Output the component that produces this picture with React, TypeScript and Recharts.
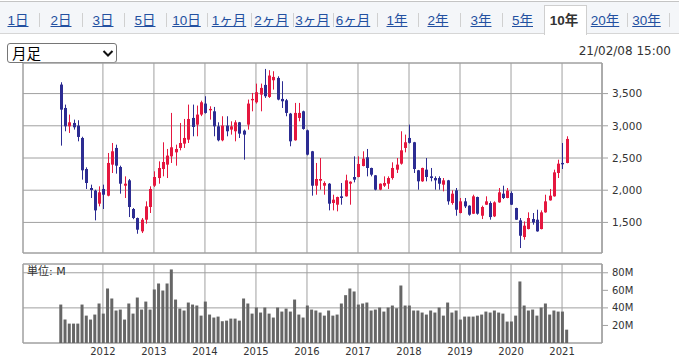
import React from 'react';
import { ComposedChart, BarChart, Bar, XAxis, YAxis, CartesianGrid, ReferenceArea } from 'recharts';

// ---- categories (monthly, Mar 2011 .. Feb 2021) ----
const START_YEAR = 2011;
const START_MONTH = 3;
const MONTH_COUNT = 120;
const months: string[] = Array.from({ length: MONTH_COUNT }, (_, k) => {
  const m = START_MONTH - 1 + k;
  return `${START_YEAR + Math.floor(m / 12)}/${String((m % 12) + 1).padStart(2, '0')}`;
});

// ---- series values ----
const opens = [
  3640, 3277, 2992, 3044, 3003, 2811, 2329, 2034, 1993, 1791,
  2019, 1915, 2397, 2656, 2360, 2070, 2153, 1708, 1568, 1361,
  1542, 1739, 2070, 2189, 2329, 2397, 2526, 2588, 2656, 2723,
  2785, 3122, 3018, 3174, 3345, 3241, 3225, 2992, 2775, 3003,
  2941, 2915, 3054, 2925, 3018, 3396, 3365, 3484, 3635, 3448,
  3707, 3743, 3417, 3396, 3189, 2775, 3122, 3225, 2930, 2604,
  2070, 2148, 2070, 2101, 1801, 1775, 1905, 1905, 2101, 2205,
  2205, 2376, 2511, 2345, 2231, 2008, 2070, 2101, 2189, 2319,
  2412, 2656, 2811, 2744, 2309, 2138, 2319, 2215, 2189, 2189,
  2086, 2153, 1801, 1998, 1646, 1827, 1760, 1635, 1894, 1604,
  1775, 1801, 1594, 1811, 1946, 1879, 1956, 1723, 1532, 1273,
  1397, 1553, 1542, 1397, 1656, 1842, 1905, 2267, 2423, 2423,
];
const highs = [
  3676, 3329, 3174, 3096, 3086, 2830, 2355, 2086, 2008, 2060,
  2086, 2578, 2733, 2707, 2381, 2215, 2174, 1723, 1575, 1568,
  1827, 2060, 2293, 2448, 2744, 2640, 3200, 2707, 3044, 3106,
  3329, 3329, 3314, 3390, 3459, 3303, 3293, 3054, 3148, 3148,
  3070, 3086, 3060, 2941, 3407, 3510, 3655, 3655, 3883, 3863,
  3847, 3769, 3692, 3417, 3200, 3355, 3355, 3235, 2941, 2610,
  2423, 2500, 2138, 2110, 1930, 1900, 2112, 2241, 2138, 2526,
  2526, 2604, 2640, 2350, 2235, 2105, 2215, 2215, 2433, 2500,
  2915, 2863, 3018, 2750, 2315, 2350, 2500, 2345, 2215, 2215,
  2189, 2160, 1998, 2034, 1879, 1879, 1765, 1930, 1900, 1760,
  1905, 1827, 1827, 2034, 2070, 2034, 1982, 1728, 1568, 1516,
  1656, 1646, 1697, 1687, 1930, 2019, 2319, 2474, 2733, 2837,
];
const lows = [
  2692, 2915, 2889, 2941, 2759, 2164, 2019, 1879, 1532, 1749,
  1708, 1905, 2267, 2257, 1946, 1879, 1583, 1550, 1324, 1335,
  1480, 1646, 2050, 2101, 2215, 2189, 2423, 2381, 2619, 2656,
  2733, 2837, 2837, 3150, 3189, 3096, 2837, 2759, 2760, 2837,
  2863, 2759, 2811, 2474, 2941, 3225, 3345, 3225, 3433, 3433,
  3562, 3396, 3277, 3148, 2682, 2770, 3070, 2940, 2540, 1915,
  1930, 2008, 1930, 1687, 1687, 1672, 1775, 1900, 1775, 2122,
  2200, 2370, 2215, 2215, 1998, 2000, 2050, 2019, 2164, 2267,
  2397, 2588, 2725, 2267, 2008, 2130, 2138, 2138, 2008, 2008,
  1982, 1775, 1775, 1604, 1640, 1723, 1604, 1630, 1620, 1552,
  1770, 1542, 1583, 1805, 1863, 1875, 1770, 1538, 1102, 1231,
  1392, 1464, 1356, 1392, 1650, 1838, 1900, 2189, 2329, 2418,
];
const closes = [
  3251, 2992, 3054, 2977, 2827, 2309, 2112, 2003, 1687, 1967,
  1930, 2423, 2604, 2381, 2101, 2101, 1739, 1568, 1387, 1542,
  1749, 2019, 2205, 2345, 2438, 2537, 2666, 2640, 2733, 2811,
  3106, 2982, 3174, 3365, 3200, 3262, 2992, 2775, 3003, 2915,
  2992, 3054, 2878, 2863, 3345, 3417, 3521, 3588, 3459, 3780,
  3759, 3407, 3381, 3200, 2759, 3200, 3200, 2951, 2552, 2070,
  2174, 2174, 2112, 1791, 1853, 1894, 1879, 2153, 2132, 2164,
  2407, 2490, 2345, 2241, 2008, 2101, 2112, 2189, 2345, 2397,
  2619, 2744, 2735, 2329, 2138, 2345, 2205, 2189, 2153, 2101,
  2153, 1827, 1946, 1697, 1827, 1749, 1620, 1905, 1635, 1739,
  1827, 1583, 1811, 1967, 1879, 1993, 1775, 1542, 1293, 1449,
  1568, 1500, 1361, 1656, 1827, 1915, 2277, 2412, 2402, 2796,
];
// volume in millions
const volumes = [
  43.8, 26.7, 22.1, 22.1, 22.1, 43.8, 31.2, 26.7, 32.4, 45,
  33.5, 62.1, 50.7, 37, 38.1, 26.7, 45, 33.5, 51.8, 38.1,
  47.2, 38.1, 61, 67.8, 59.8, 67.8, 83.8, 49.5, 39.2, 37,
  46.1, 43.8, 42.7, 31.2, 47.2, 32.4, 29, 30.1, 24.8, 25.5,
  27.8, 27.8, 25.5, 50.7, 45, 33.5, 40.4, 34.7, 40.4, 33.5,
  29, 40.4, 35.8, 39.2, 35.8, 49.5, 32.4, 29, 42.7, 38.1,
  37, 34.7, 31.2, 37, 31.2, 32.4, 45, 54.5, 62.1, 58.7,
  43.8, 45, 46.1, 37, 38.1, 40.4, 35.8, 40.4, 42.7, 39.6,
  65.5, 42.7, 42.7, 37, 37, 34.7, 32.4, 37, 34.7, 40.4,
  31.2, 46.1, 34.7, 37, 26.7, 30.1, 30.1, 30.1, 31.2, 32.4,
  35.8, 34.7, 37, 34.7, 33.5, 24.4, 24.4, 31.2, 70.1, 42.7,
  37, 38.1, 31.2, 40.4, 45, 32.4, 37, 35.8, 35.8, 15.2,
];

// ---- tick labels / UI text ----
const priceTicks = [1500, 2000, 2500, 3000, 3500];
const volumeTicks = [20, 40, 60, 80];
const tabs = ['1日', '2日', '3日', '5日', '10日', '1ヶ月', '2ヶ月', '3ヶ月', '6ヶ月', '1年', '2年', '3年', '5年', '10年', '20年', '30年'];
const activeTab = '10年';
const periodLabel = '月足';
const dateLabel = '21/02/08 15:00';
const unitLabel = '単位: M';

const data = months.map((m, i) => ({ i, m, o: opens[i], h: highs[i], l: lows[i], c: closes[i], v: volumes[i] }));
const yearTicks = data.filter((d) => d.m.endsWith('/01')).map((d) => d.i);

const X_DOMAIN: [number, number] = [-8.8, 127.4];
const P_DOMAIN: [number, number] = [1025, 3975];
const V_DOMAIN: [number, number] = [0, 90];

const RED = '#e5173f';
const BLUE = '#2c2c92';
const GRID = '#a0a0a0';
const TEXT = '#333333';
const AXIS_FONT = '"DejaVu Sans", "Noto Sans CJK JP", sans-serif';
const TAB_FONT = '"Liberation Sans", "Noto Sans CJK JP", sans-serif';

// tab layout (UI chrome)
const tabCenters = [18, 61, 103, 145, 186.5, 229, 271.5, 312.5, 353, 397, 438, 481, 522.5, 564, 605, 646.5];
const sepXs = [39, 82, 124, 166, 207, 251, 293, 333, 377, 418, 460, 502, 627, 669];

const Candle = (props: any) => {
  const { x, y, width, height, payload } = props;
  if (x == null || y == null || payload == null) return null;
  const top = Math.min(y, y + height);
  const h = Math.abs(height);
  const range = payload.h - payload.l || 1;
  const k = h / range;
  const bTopV = Math.max(payload.o, payload.c);
  const bBotV = Math.min(payload.o, payload.c);
  const by1 = top + (payload.h - bTopV) * k;
  const by2 = top + (payload.h - bBotV) * k;
  const color = payload.c >= payload.o ? RED : BLUE;
  const cx = Math.round(x + width / 2) + 0.5;
  return (
    <g>
      <line x1={cx} x2={cx} y1={top} y2={top + h} stroke={color} strokeWidth={1} />
      <rect x={cx - 1.5} y={by1} width={3} height={Math.max(1, by2 - by1)} fill={color} />
    </g>
  );
};

const fmtPrice = (v: number) => v.toLocaleString('en-US');
const fmtVol = (v: number) => `${v}M`;
const fmtYear = (i: number) => (months[i] ? months[i].slice(0, 4) : '');

export default function App() {
  return (
    <div
      style={{
        position: 'absolute',
        left: 0,
        top: 0,
        width: 679,
        height: 357,
        background: '#ffffff',
        overflow: 'hidden',
      }}
    >
      {/* tab bar */}
      <div
        style={{
          position: 'absolute',
          left: 0,
          top: 1,
          width: 679,
          height: 31,
          background: '#f4f6f9',
          borderTop: '1px solid #c4c4c4',
          borderBottom: '1px solid #d6d6d6',
        }}
      />
      <div
        style={{
          position: 'absolute',
          left: 544,
          top: 5,
          width: 41,
          height: 29,
          background: '#ffffff',
          borderTop: '1px solid #cfcfcf',
          borderLeft: '1px solid #cfcfcf',
          borderRight: '1px solid #cfcfcf',
        }}
      />
      {sepXs.map((sx) => (
        <div key={sx} style={{ position: 'absolute', left: sx, top: 13, width: 1, height: 14, background: '#d0d0d0' }} />
      ))}
      {tabs.map((t, k) => {
        const active = t === activeTab;
        return (
          <div
            key={t}
            style={{
              position: 'absolute',
              left: tabCenters[k] - 30,
              top: 12,
              width: 60,
              height: 17,
              lineHeight: '17px',
              textAlign: 'center',
              fontFamily: TAB_FONT,
              fontSize: 13.5,
              fontWeight: active ? 700 : 400,
              color: active ? '#333333' : '#2350a0',
              textDecoration: active ? 'none' : 'underline',
              whiteSpace: 'nowrap',
            }}
          >
            {t}
          </div>
        );
      })}

      {/* period selector (drawn as a box with a chevron) */}
      <div
        style={{
          position: 'absolute',
          left: 7,
          top: 43,
          width: 110,
          height: 20,
          boxSizing: 'border-box',
          border: '1px solid #767676',
          borderRadius: 3,
          background: '#ffffff',
        }}
      >
        <div
          style={{
            position: 'absolute',
            left: 4,
            top: 0,
            height: 18,
            lineHeight: '18px',
            fontSize: 14.5,
            fontFamily: '"Noto Sans CJK JP", sans-serif',
            color: '#000',
            whiteSpace: 'nowrap',
          }}
        >
          {periodLabel}
        </div>
        <svg width={12} height={10} style={{ position: 'absolute', left: 94, top: 5 }}>
          <polyline points="1.5,2 6,6.5 10.5,2" fill="none" stroke="#111" strokeWidth={2} />
        </svg>
      </div>

      {/* date */}
      <div
        style={{
          position: 'absolute',
          right: 8,
          top: 44,
          lineHeight: '14px',
          fontSize: 12,
          fontFamily: AXIS_FONT,
          color: TEXT,
        }}
      >
        {dateLabel}
      </div>

      {/* price chart */}
      <div style={{ position: 'absolute', left: 0, top: 58 }}>
        <ComposedChart width={679} height={200} data={data} margin={{ top: 5, right: 0, bottom: 5, left: 23 }}>
          <CartesianGrid stroke={GRID} />
          <XAxis dataKey="i" type="number" domain={X_DOMAIN} ticks={yearTicks} allowDataOverflow hide />
          <YAxis
            orientation="right"
            width={77}
            type="number"
            domain={P_DOMAIN}
            ticks={priceTicks}
            allowDataOverflow
            tickFormatter={fmtPrice}
            tick={{ fontSize: 10.5, fill: TEXT, fontFamily: AXIS_FONT }}
            tickLine={{ stroke: GRID }}
            axisLine={{ stroke: GRID }}
            tickSize={6}
            tickMargin={4}
          />
          <ReferenceArea x1={X_DOMAIN[0]} x2={X_DOMAIN[1]} y1={P_DOMAIN[0]} y2={P_DOMAIN[1]} fill="none" stroke={GRID} />
          <Bar dataKey={(d: any) => [d.l, d.h]} barSize={3} shape={<Candle />} isAnimationActive={false} />
        </ComposedChart>
      </div>

      {/* volume chart */}
      <div style={{ position: 'absolute', left: 0, top: 259 }}>
        <BarChart width={679} height={98} data={data} margin={{ top: 5, right: 0, bottom: 0, left: 23 }}>
          <CartesianGrid stroke={GRID} />
          <XAxis
            dataKey="i"
            type="number"
            domain={X_DOMAIN}
            ticks={yearTicks}
            allowDataOverflow
            height={14}
            tickFormatter={fmtYear}
            tick={{ fontSize: 10, fill: TEXT, fontFamily: AXIS_FONT }}
            tickLine={false}
            axisLine={false}
            tickSize={3}
            tickMargin={2}
          />
          <YAxis
            orientation="right"
            width={77}
            type="number"
            domain={V_DOMAIN}
            ticks={volumeTicks}
            allowDataOverflow
            tickFormatter={fmtVol}
            tick={{ fontSize: 10, fill: TEXT, fontFamily: AXIS_FONT }}
            tickLine={{ stroke: GRID }}
            axisLine={{ stroke: GRID }}
            tickSize={6}
            tickMargin={4}
          />
          <ReferenceArea x1={X_DOMAIN[0]} x2={X_DOMAIN[1]} y1={V_DOMAIN[0]} y2={V_DOMAIN[1]} fill="none" stroke={GRID} />
          <Bar dataKey="v" barSize={3} fill="#666666" isAnimationActive={false} />
        </BarChart>
      </div>
      <div
        style={{
          position: 'absolute',
          left: 27,
          top: 265,
          lineHeight: '14px',
          fontSize: 11,
          fontFamily: AXIS_FONT,
          color: TEXT,
        }}
      >
        {unitLabel}
      </div>
    </div>
  );
}
